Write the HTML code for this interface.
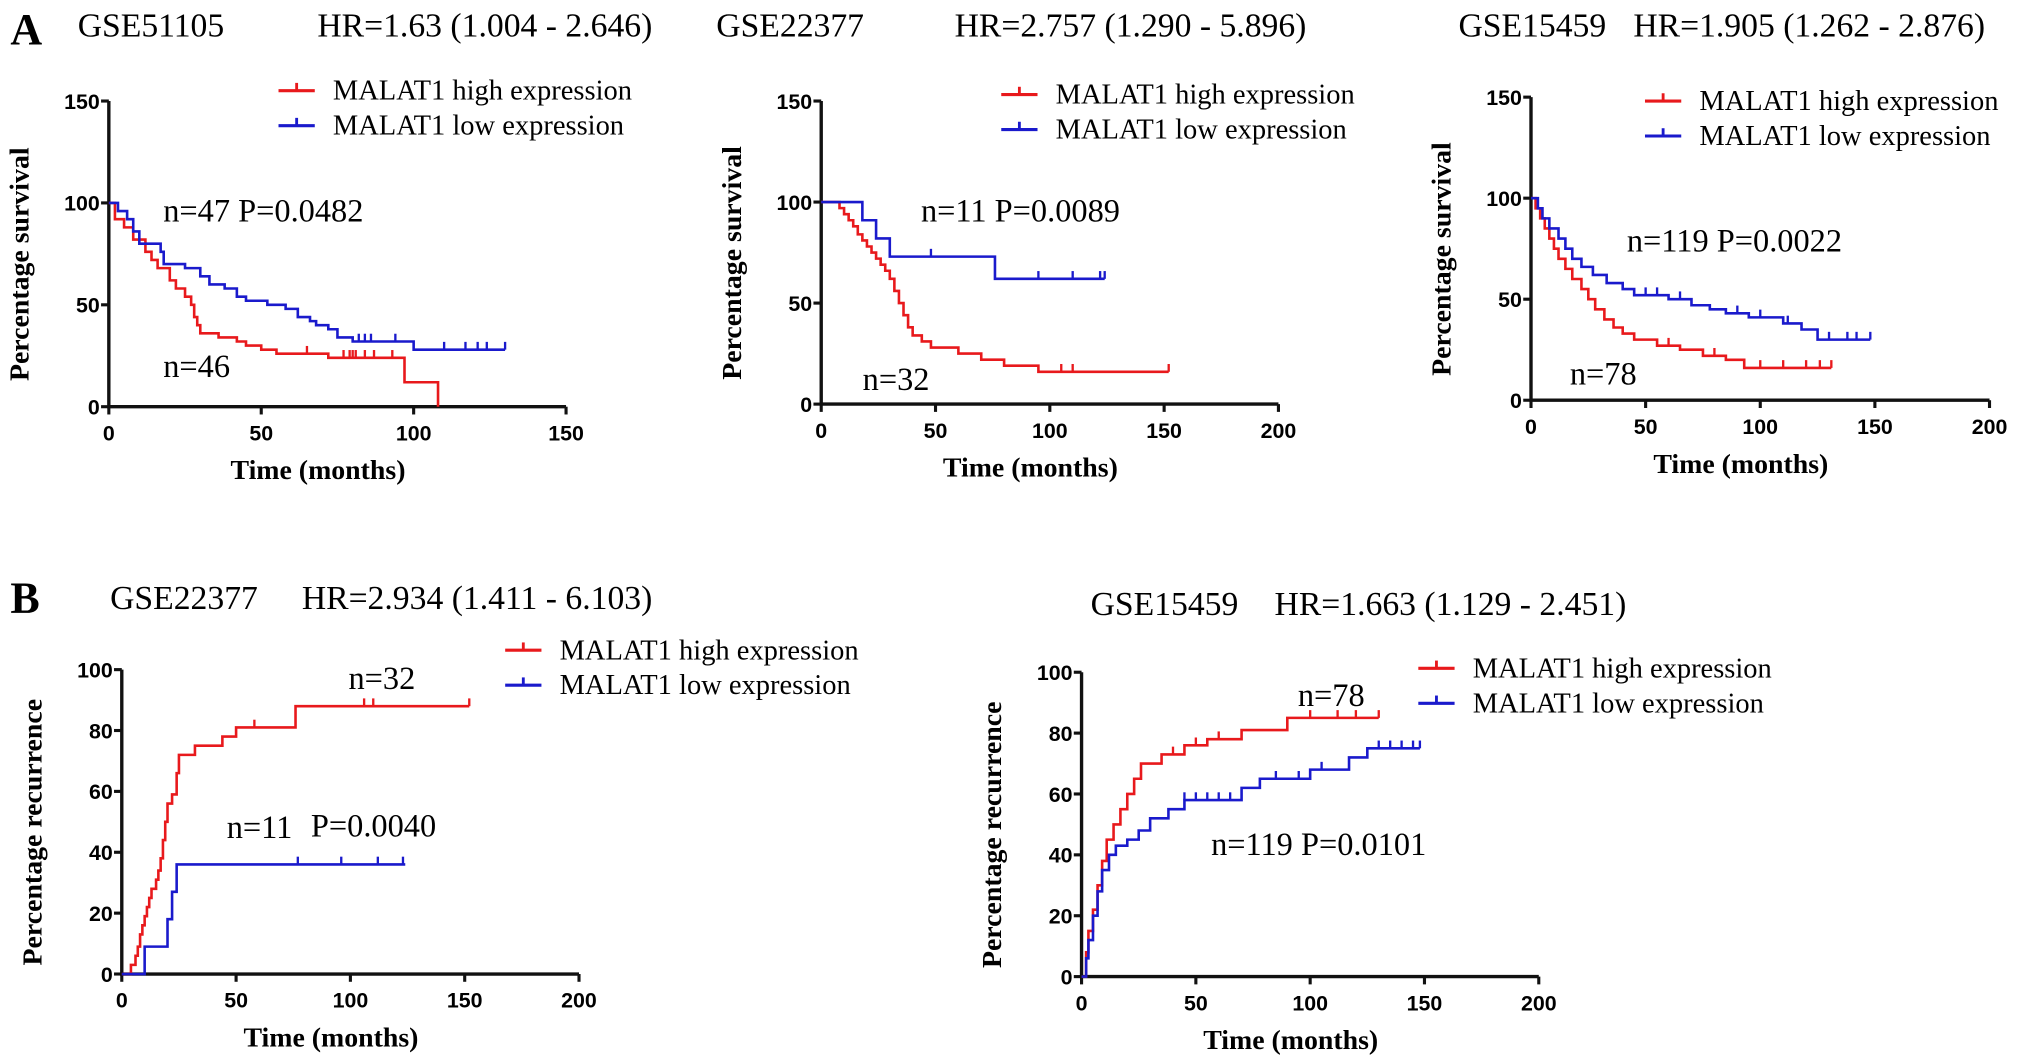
<!DOCTYPE html>
<html><head><meta charset="utf-8"><style>
html,body{margin:0;padding:0;background:#fff}
svg{display:block}
text{font-family:"Liberation Serif",serif}
.tk{font-family:"Liberation Sans",sans-serif;font-weight:bold;font-size:16.5px}
.at{font-family:"Liberation Serif",serif;font-weight:bold;font-size:21.5px}
.ti{font-size:26px}
.lg{font-size:22px}
.an{font-size:25px}
</style></head><body>
<svg id="fig" width="2031" height="1063" viewBox="0 0 1568 820.7" xmlns="http://www.w3.org/2000/svg"></svg>
<script>
// ---- data ----
const a1HighT=[0,2,5,8,12,14,16,20,22,25,27,28,29,30,36,42,45,50,55,72,97,108];
const a1HighV=[100,92,88,82,76,72,68,62,58,54,50,44,40,36,34,32,30,28,26,24,12,0];
const a1HighC=[65,77,79,80,81,84,87,93];
const a1LowT=[0,3,6,8,10,17,18,25,30,33,38,42,45,52,58,62,66,68,72,75,80,100,130];
const a1LowV=[100,96,92,86,80,76,70,68,64,60,58,54,52,50,48,44,42,40,38,34,32,28,28];
const a1LowC=[82,84,86,94,110,117,121,124,130];
const a2HighT=[0,8,10,12,14,16,18,20,22,24,26,28,30,32,34,36,38,40,44,48,60,70,80,95,152];
const a2HighV=[100,97,94,91,88,84,81,78,75,72,69,66,62,56,50,44,38,34,31,28,25,22,19,16,16];
const a2HighC=[105,110,152];
const a2LowT=[0,18,24,30,76,124];
const a2LowV=[100,91,82,73,62,62];
const a2LowC=[48,95,110,122,124];
const a3HighT=[0,2,4,6,8,10,12,15,18,22,25,28,32,36,40,45,55,65,75,85,93,131];
const a3HighV=[100,95,90,85,80,75,70,65,60,55,50,45,40,36,33,30,27,25,22,20,16,16];
const a3HighC=[60,80,100,110,120,126,131];
const a3LowT=[0,3,5,8,12,15,18,22,27,33,40,45,60,70,78,85,95,110,118,125,148];
const a3LowV=[100,95,90,85,80,75,70,66,62,58,55,52,50,47,45,43,41,38,35,30,30];
const a3LowC=[50,55,65,90,100,112,130,138,142,148];
const b1HighT=[0,4,6,7,8,9,10,11,12,13,15,16,17,18,19,20,22,24,25,32,44,50,76,152];
const b1HighV=[0,3,6,9,13,16,19,22,25,28,31,34,38,44,50,56,59,66,72,75,78,81,88,88];
const b1HighC=[58,106,110,152];
const b1LowT=[0,10,20,22,24,124];
const b1LowV=[0,9,18,27,36,36];
const b1LowC=[77,96,112,123];
const b2HighT=[0,2,3,5,7,9,11,14,17,20,23,26,35,45,55,70,90,130];
const b2HighV=[0,8,15,22,30,38,45,50,55,60,65,70,73,76,78,81,85,85];
const b2HighC=[40,50,60,100,112,120,130];
const b2LowT=[0,2,3,5,7,9,12,15,20,25,30,38,45,70,78,100,117,125,148];
const b2LowV=[0,6,12,20,28,35,40,43,45,48,52,55,58,62,65,68,72,75,75];
const b2LowC=[45,50,55,60,65,85,95,105,130,135,140,145,148];
const yTicksA=[0,50,100,150];
const yTicksB=[0,20,40,60,80,100];
const xTicks150=[0,50,100,150];
const xTicks200=[0,50,100,150,200];

const NS="http://www.w3.org/2000/svg";
const svg=document.getElementById('fig');
function el(tag,attrs,parent,txt){const e=document.createElementNS(NS,tag);for(const k in attrs)e.setAttribute(k,attrs[k]);if(txt!==undefined)e.textContent=txt;(parent||svg).appendChild(e);return e;}

function chart(o){
  const g=el('g',{});
  
  
  const sx=v=>o.x0+(v/o.xmax)*(o.x1-o.x0);
  const sy=v=>o.y0-(v/o.ymax)*(o.y0-o.y1);
  const ax=el('path',{d:`M${o.x0},${o.y1}V${o.y0}H${o.x1}`,stroke:'#111','stroke-width':2.6,fill:'none'},g);
  
  
  o.yt.forEach(v=>{
    el('line',{x1:o.x0-6,x2:o.x0,y1:sy(v),y2:sy(v),stroke:'#111','stroke-width':2.4},g);
    const t=el('text',{x:o.x0-7,y:sy(v)+6,'text-anchor':'end',class:'tk'},g,String(v));
    
    
  });
  o.xt.forEach(v=>{
    el('line',{x1:sx(v),x2:sx(v),y1:o.y0,y2:o.y0+6,stroke:'#111','stroke-width':2.4},g);
    const t=el('text',{x:sx(v),y:o.y0+26,'text-anchor':'middle',class:'tk'},g,String(v));
    
    
  });
  const xt=el('text',{x:(o.x0+o.x1)/2-15,y:o.y0+56,'text-anchor':'middle',class:'at'},g,'Time (months)');
  
  
  const yx=o.x0-62, ym=(o.y0+o.y1)/2+8;
  const yt=el('text',{x:yx,y:ym,'text-anchor':'middle',class:'at',transform:`rotate(-90 ${yx} ${ym})`},g,o.ylab);
  
  
  o.series.forEach(s=>{
    let d=`M${sx(s.t[0])},${sy(s.v[0])}`;
    for(let i=1;i<s.t.length;i++){d+=`H${sx(s.t[i])}V${sy(s.v[i])}`;}
    const p=el('path',{d:d,stroke:s.c,'stroke-width':2,fill:'none'},g);
    
    
    s.cz.forEach(t=>{
      let v=s.v[0];for(let i=0;i<s.t.length;i++){if(s.t[i]<=t)v=s.v[i];}
      const m=el('line',{x1:sx(t),x2:sx(t),y1:sy(v)-6,y2:sy(v),stroke:s.c,'stroke-width':1.8},g);
      
      
    });
  });
  [['MALAT1 high expression','#e8191c',0],['MALAT1 low expression','#1a1acc',27]].forEach(L=>{
    const y=o.ly+L[2];
    const lg=el('g',{},g);
    
    
    el('line',{x1:o.lx,x2:o.lx+28,y1:y,y2:y,stroke:L[1],'stroke-width':2.4},lg);
    el('line',{x1:o.lx+14,x2:o.lx+14,y1:y-6,y2:y,stroke:L[1],'stroke-width':2.2},lg);
    el('text',{x:o.lx+42,y:y+7,class:'lg'},lg,L[0]);
  });
  o.ann.forEach(a=>{
    const t=el('text',{x:a[0],y:a[1],class:'an','font-size':a[3]||25},g,a[2]);
    
    
  });
  o.titles.forEach(a=>{
    const t=el('text',{x:a[0],y:a[1],class:'ti'},g,a[2]);
    
    
  });
}
const R='#e8191c',B='#1a1acc';
chart({name:'chart-a-gse51105',x0:84,x1:437,y0:314,y1:78,xmax:150,ymax:150,yt:yTicksA,xt:xTicks150,ylab:'Percentage survival',
 series:[{n:'high',c:R,t:a1HighT,v:a1HighV,cz:a1HighC},{n:'low',c:B,t:a1LowT,v:a1LowV,cz:a1LowC}],
 lx:215,ly:70,ann:[[126,171,'n=47  P=0.0482'],[126,291,'n=46']],titles:[[60,28,'GSE51105'],[245,28,'HR=1.63 (1.004 - 2.646)']]});
chart({name:'chart-a-gse22377',x0:634,x1:987,y0:312,y1:78,xmax:200,ymax:150,yt:yTicksA,xt:xTicks200,ylab:'Percentage survival',
 series:[{n:'high',c:R,t:a2HighT,v:a2HighV,cz:a2HighC},{n:'low',c:B,t:a2LowT,v:a2LowV,cz:a2LowC}],
 lx:773,ly:73,ann:[[711,171,'n=11  P=0.0089'],[666,301,'n=32']],titles:[[553,28,'GSE22377'],[737,28,'HR=2.757 (1.290 - 5.896)']]});
chart({name:'chart-a-gse15459',x0:1182,x1:1536,y0:309,y1:75,xmax:200,ymax:150,yt:yTicksA,xt:xTicks200,ylab:'Percentage survival',
 series:[{n:'high',c:R,t:a3HighT,v:a3HighV,cz:a3HighC},{n:'low',c:B,t:a3LowT,v:a3LowV,cz:a3LowC}],
 lx:1270,ly:78,ann:[[1256,194,'n=119   P=0.0022'],[1212,297,'n=78']],titles:[[1126,28,'GSE15459'],[1261,28,'HR=1.905 (1.262 - 2.876)']]});
chart({name:'chart-b-gse22377',x0:94,x1:447,y0:752,y1:517,xmax:200,ymax:100,yt:yTicksB,xt:xTicks200,ylab:'Percentage recurrence',
 series:[{n:'high',c:R,t:b1HighT,v:b1HighV,cz:b1HighC},{n:'low',c:B,t:b1LowT,v:b1LowV,cz:b1LowC}],
 lx:390,ly:502,ann:[[269,532,'n=32'],[175,647,'n=11'],[240,646,'P=0.0040',21]],titles:[[85,470,'GSE22377'],[233,470,'HR=2.934 (1.411 - 6.103)']]});
chart({name:'chart-b-gse15459',x0:835,x1:1188,y0:754,y1:519,xmax:200,ymax:100,yt:yTicksB,xt:xTicks200,ylab:'Percentage recurrence',
 series:[{n:'high',c:R,t:b2HighT,v:b2HighV,cz:b2HighC},{n:'low',c:B,t:b2LowT,v:b2LowV,cz:b2LowC}],
 lx:1095,ly:516,ann:[[1002,545,'n=78'],[935,660,'n=119  P=0.0101']],titles:[[842,475,'GSE15459'],[984,475,'HR=1.663 (1.129 - 2.451)']]});
const pa=el('text',{x:8,y:34,'font-size':34,'font-weight':'bold'},svg,'A');


const pb=el('text',{x:8,y:473,'font-size':34,'font-weight':'bold'},svg,'B');


</script>
</body></html>
